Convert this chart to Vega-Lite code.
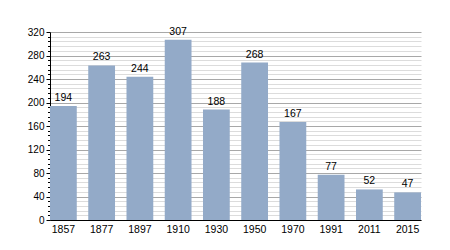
{
  "$schema": "https://vega.github.io/schema/vega-lite/v6.json",
  "width": 371,
  "height": 188,
  "autosize": "none",
  "padding": {"left": 50, "top": 32, "right": 29, "bottom": 30},
  "background": "white",
  "config": {"view": {"stroke": null}, "font": "Liberation Sans"},
  "data": {"values": [
    {"year": "1857", "pop": 194},
    {"year": "1877", "pop": 263},
    {"year": "1897", "pop": 244},
    {"year": "1910", "pop": 307},
    {"year": "1930", "pop": 188},
    {"year": "1950", "pop": 268},
    {"year": "1970", "pop": 167},
    {"year": "1991", "pop": 77},
    {"year": "2011", "pop": 52},
    {"year": "2015", "pop": 47}
  ]},
  "encoding": {
    "x": {"field": "year", "type": "ordinal", "sort": null,
      "scale": {"paddingInner": 0.3, "paddingOuter": 0},
      "axis": {"title": null, "labelAngle": 0, "ticks": false, "domainColor": "#000", "labelColor": "#000", "labelFontSize": 10.5, "labelPadding": 4}},
    "y": {"field": "pop", "type": "quantitative",
      "scale": {"domain": [0, 320], "nice": false},
      "axis": {"title": null,
        "values": [0,8,16,24,32,40,48,56,64,72,80,88,96,104,112,120,128,136,144,152,160,168,176,184,192,200,208,216,224,232,240,248,256,264,272,280,288,296,304,312,320],
        "labelExpr": "datum.value % 40 === 0 ? datum.label : ''",
        "labelOverlap": false,
        "labelColor": "#000", "labelFontSize": 10, "labelPadding": 2,
        "domainColor": "#000", "tickColor": "#000",
        "tickSize": {"condition": {"test": "datum.value % 40 === 0", "value": 4}, "value": 2.5},
        "grid": true,
        "gridColor": {"condition": {"test": "datum.value % 40 === 0", "value": "#a8a8a8"}, "value": "#dcdcdc"},
        "gridWidth": 1}}
  },
  "layer": [
    {"mark": {"type": "bar", "color": "#93aac8"}},
    {"mark": {"type": "text", "baseline": "alphabetic", "dy": -5, "fontSize": 10.5, "color": "#000"},
     "encoding": {"text": {"field": "pop", "type": "quantitative"}}}
  ]
}
